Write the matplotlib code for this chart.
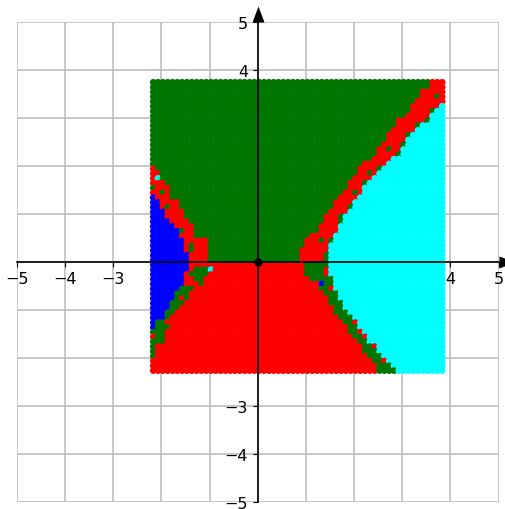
import numpy as np
import matplotlib
matplotlib.use("Agg")
import matplotlib.pyplot as plt

ticks = [-5, -4, -3, -2, -1, 0, 1, 2, 3, 4, 5]

x_cols = [-2.2, -2.1, -2.0, -1.9, -1.8, -1.7, -1.6, -1.5, -1.4, -1.3, -1.2, -1.1, -1.0, -0.9, -0.8,
          -0.7, -0.6, -0.5, -0.4, -0.3, -0.2, -0.1, 0.0, 0.1, 0.2, 0.3, 0.4, 0.5, 0.6, 0.7,
          0.8, 0.9, 1.0, 1.1, 1.2, 1.3, 1.4, 1.5, 1.6, 1.7, 1.8, 1.9, 2.0, 2.1, 2.2, 2.3,
          2.4, 2.5, 2.6, 2.7, 2.8, 2.9, 3.0, 3.1, 3.2, 3.3, 3.4, 3.5, 3.6, 3.7, 3.8]

# rows above the x axis: blue | red | green | red | cyan
upper_y = [3.75, 3.65, 3.55, 3.45, 3.35, 3.25, 3.15, 3.05, 2.95, 2.85, 2.75, 2.65, 2.55,
           2.45, 2.35, 2.25, 2.15, 2.05, 1.95, 1.85, 1.75, 1.65, 1.55, 1.45, 1.35, 1.25,
           1.15, 1.05, 0.95, 0.85, 0.75, 0.65, 0.55, 0.45, 0.35, 0.25, 0.15, 0.05]
upper_blue_end = [-2.3] * 19 + [-2.3, -2.3, -2.3, -2.3, -2.2, -2.1, -2.0, -2.0, -1.9, -1.9,
                                -1.8, -1.7, -1.6, -1.6, -1.5, -1.5, -1.5, -1.4, -1.4]
upper_red_end = [-2.3] * 18 + [-2.1, -2.0, -2.0, -1.9, -1.8, -1.8, -1.8, -1.6, -1.6, -1.5, -1.5,
                               -1.4, -1.3, -1.3, -1.3, -1.0, -1.0, -1.0, -1.0, -1.0]
upper_band_start = [3.6, 3.6, 3.4, 3.4, 3.3, 3.2, 3.2, 3.1, 2.9, 2.9, 2.8, 2.7, 2.7,
                    2.6, 2.5, 2.5, 2.4, 2.2, 2.1, 2.1, 2.0, 1.9, 1.9, 1.8, 1.7, 1.6,
                    1.6, 1.5, 1.4, 1.4, 1.3, 1.3, 1.1, 1.0, 1.0, 0.9, 0.9, 0.9]
upper_cyan_start = [3.9, 3.9, 3.9, 3.9, 3.9, 3.8, 3.7, 3.6, 3.5, 3.4, 3.3, 3.2, 3.1,
                    3.1, 3.0, 2.9, 2.8, 2.7, 2.5, 2.5, 2.4, 2.3, 2.2, 2.2, 2.1, 2.0,
                    1.9, 1.9, 1.8, 1.8, 1.7, 1.7, 1.6, 1.6, 1.5, 1.5, 1.5, 1.5]

# rows below the x axis: blue | green | red | green | cyan
lower_y = [-0.05, -0.15, -0.25, -0.35, -0.45, -0.55, -0.65, -0.75, -0.85, -0.95, -1.05, -1.15,
           -1.25, -1.35, -1.45, -1.55, -1.65, -1.75, -1.85, -1.95, -2.05, -2.15, -2.25]
lower_blue_end = [-1.4, -1.4, -1.5, -1.5, -1.5, -1.6, -1.7, -1.7, -1.8, -1.8, -1.9, -1.9,
                  -2.1, -2.1, -2.2, -2.3, -2.3, -2.3, -2.3, -2.3, -2.3, -2.3, -2.3]
lower_green_end = [-1.4, -1.0, -1.0, -1.1, -1.5, -1.3, -1.4, -1.4, -1.5, -1.6, -1.7, -1.8,
                   -1.8, -1.8, -1.9, -1.9, -1.9, -2.1, -2.1, -2.1, -2.3, -2.3, -2.3]
lower_band_start = [1.0, 1.0, 1.0, 1.1, 1.3, 1.3, 1.4, 1.5, 1.5, 1.6, 1.6, 1.7,
                    1.8, 1.9, 1.9, 2.0, 2.1, 2.2, 2.2, 2.3, 2.4, 2.5, 2.5]
lower_cyan_start = [1.5, 1.5, 1.5, 1.6, 1.6, 1.6, 1.7, 1.7, 1.8, 1.8, 1.9, 2.0,
                    2.1, 2.1, 2.2, 2.3, 2.3, 2.4, 2.5, 2.6, 2.7, 2.8, 2.9]

# single points that differ from the regions around them
spot_x = [3.7, 3.6, 3.5, 3.3, 3.1, 3.0, 2.7, 2.9, 2.5, 2.3, 2.2, 2.0, 1.9, 1.7, 1.7, 1.3, 1.5, 1.4, 1.4,
          -2.0, -1.9, -1.6, -1.4, -1.4, -2.2, -1.2,
          -1.4, -1.5, -1.5, -1.4, -1.6, -1.9, -2.2,
          1.4, 1.4, 1.5, 2.0, 2.1, 2.2, 2.4, 2.6,
          -2.1, -1.0, 1.3]
spot_y = [3.45, 3.15, 2.95, 2.85, 2.65, 2.45, 2.35, 2.25, 1.95, 1.85, 1.65, 1.45, 1.15, 0.95, 0.85, 0.45, 0.45, 0.15, 0.05,
          1.45, 1.15, 0.65, 0.35, 0.25, 1.55, -0.45,
          -0.15, -0.25, -0.35, -0.35, -0.75, -1.25, -1.55,
          -0.15, -0.25, -0.55, -1.25, -1.45, -1.55, -1.75, -2.05,
          1.75, -0.15, -0.45]
spot_color = ['green'] * 26 + ['red'] * 7 + ['red'] * 8 + ['cyan', 'cyan', 'blue']

DARK_GREEN = '#007500'
# the dot grid sits slightly off the round values
X_SHIFT = 0.03
Y_SHIFT = -0.015


def upper_color(x, blue_end, red_end, band_start, cyan_start):
    if x < blue_end:
        return 'blue'
    if x < red_end:
        return 'red'
    if x < band_start:
        return 'green'
    if x < cyan_start:
        return 'red'
    return 'cyan'


def lower_color(x, blue_end, green_end, band_start, cyan_start):
    if x < blue_end:
        return 'blue'
    if x < green_end:
        return 'green'
    if x < band_start:
        return 'red'
    if x < cyan_start:
        return 'green'
    return 'cyan'


spots = {(a, b): c for a, b, c in zip(spot_x, spot_y, spot_color)}

xs, ys, colors = [], [], []
for i, y in enumerate(upper_y):
    for x in x_cols:
        xs.append(x + X_SHIFT)
        ys.append(y + Y_SHIFT)
        colors.append(spots.get((x, y), upper_color(x, upper_blue_end[i], upper_red_end[i],
                                                    upper_band_start[i], upper_cyan_start[i])))
for i, y in enumerate(lower_y):
    for x in x_cols:
        xs.append(x + X_SHIFT)
        ys.append(y + Y_SHIFT)
        colors.append(spots.get((x, y), lower_color(x, lower_blue_end[i], lower_green_end[i],
                                                    lower_band_start[i], lower_cyan_start[i])))
colors = [DARK_GREEN if c == 'green' else c for c in colors]

fig = plt.figure(figsize=(5.05, 5.10), dpi=100)
ax = fig.add_axes([17 / 505, 7 / 510, 481.5 / 505, 480.5 / 510])

ax.set_xlim(-5, 5)
ax.set_ylim(-5, 5)
ax.set_xticks(ticks)
ax.set_yticks(ticks)
ax.tick_params(labelsize=11.5)
ax.set_axisbelow(True)
ax.grid(True, color='#bdbdbd', linewidth=1.2)

ax.scatter(xs, ys, c=colors, s=23.5, linewidths=0, zorder=2)

ax.spines['left'].set_position('zero')
ax.spines['bottom'].set_position('zero')
ax.spines['top'].set_visible(False)
ax.spines['right'].set_visible(False)
for side in ['left', 'bottom']:
    ax.spines[side].set_linewidth(1.2)
    ax.spines[side].set_zorder(3)

# arrow heads sit just past the end of each axis
ax.plot(0, 5, marker=[(-6, 0), (6, 0), (0, 16)], ms=23, color='black', mew=0, clip_on=False, zorder=4)
ax.plot(5, 0, marker=[(0, -6), (0, 6), (16, 0)], ms=23, color='black', mew=0, clip_on=False, zorder=4)
ax.plot(0, 0, 'o', color='black', ms=5, zorder=4)

fig.savefig("out.png", dpi=100)
